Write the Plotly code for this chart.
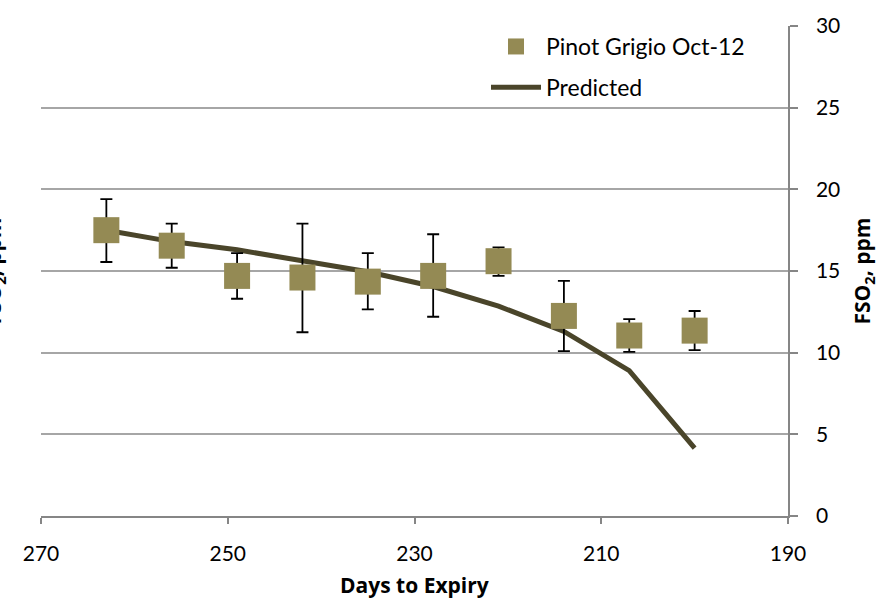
import plotly.graph_objects as go

days = [263, 256, 249, 242, 235, 228, 221, 214, 207, 200]
fso2 = [17.5, 16.55, 14.7, 14.6, 14.35, 14.7, 15.6, 12.25, 11.05, 11.35]
err_plus = [1.9, 1.35, 1.4, 3.3, 1.75, 2.55, 0.85, 2.15, 1.0, 1.2]
err_minus = [1.95, 1.35, 1.4, 3.35, 1.7, 2.5, 0.9, 2.15, 1.0, 1.2]
predicted = [17.5, 16.8, 16.3, 15.65, 14.95, 14.05, 12.85, 11.3, 8.9, 4.15]

x_ticks = [270, 250, 230, 210, 190]
y_ticks = [0, 5, 10, 15, 20, 25, 30]

FONT = "Lato"
TFONT = "Open Sans"
MARKER = "#948A54"
LINE = "#4A452A"
GRID = "#A6A6A6"
AXIS = "#868686"

L, R, T, B = 41, 96, 21, 86
W, H = 884, 602
pw, ph = W - L - R, H - T - B

fig = go.Figure()
fig.add_trace(go.Scatter(
    x=days, y=predicted, mode="lines", name="Predicted", legendgroup="b",
    legendrank=2,
    line=dict(color=LINE, width=5),
))
fig.add_trace(go.Scatter(
    x=days, y=fso2, mode="markers", name="Pinot Grigio Oct-12",
    legendgroup="a", legendrank=1,
    marker=dict(symbol="square", size=26, color=MARKER),
    error_y=dict(type="data", symmetric=False, array=err_plus, arrayminus=err_minus,
                 color="black", thickness=1.8, width=6),
))

fig.update_layout(
    width=W, height=H,
    margin=dict(l=L, r=R, t=T, b=B),
    paper_bgcolor="white", plot_bgcolor="white",
    font=dict(family=FONT, size=21, color="black"),
    showlegend=True,
    legend=dict(
        x=(486 - L) / pw, y=1 - (20 - T) / ph, xanchor="left", yanchor="top",
        bgcolor="rgba(0,0,0,0)", font=dict(family=FONT, size=23, color="black"),
        traceorder="grouped", tracegroupgap=8, itemwidth=50,
    ),
    xaxis=dict(
        range=[270, 190], tickvals=x_ticks, showgrid=False, zeroline=False,
        showline=True, linecolor=AXIS, linewidth=1.5,
        ticks="outside", ticklen=6, tickcolor=AXIS, tickwidth=1.5,
        ticklabelstandoff=12,
        tickfont=dict(family=FONT, size=21, color="black"),
    ),
    yaxis=dict(
        range=[0, 30], tickvals=y_ticks, side="right",
        showgrid=True, gridcolor=GRID, gridwidth=1.5, zeroline=False,
        showline=True, linecolor=AXIS, linewidth=1.5,
        ticks="outside", ticklen=8, tickcolor=AXIS, tickwidth=1.5,
        ticklabelstandoff=14,
        tickfont=dict(family=FONT, size=21, color="black"),
    ),
    annotations=[
        dict(text="<b>Days to Expiry</b>", xref="paper", yref="paper",
             x=0.5, y=(516 - 586) / ph, xanchor="center", yanchor="middle",
             showarrow=False, font=dict(family=TFONT, size=21, color="black")),
        dict(text="<b>FSO<sub>2</sub>, ppm</b>", xref="paper", yref="paper",
             x=(863 - L) / pw, y=1 - (268 - T) / ph, xanchor="center", yanchor="middle",
             textangle=-90, showarrow=False,
             font=dict(family=TFONT, size=21, color="black")),
        dict(text="<b>FSO<sub>2</sub>, ppm</b>", xref="paper", yref="paper",
             x=(-6 - L) / pw, y=1 - (268 - T) / ph, xanchor="center", yanchor="middle",
             textangle=-90, showarrow=False,
             font=dict(family=TFONT, size=21, color="black")),
    ],
)

fig.write_html("out.html")
